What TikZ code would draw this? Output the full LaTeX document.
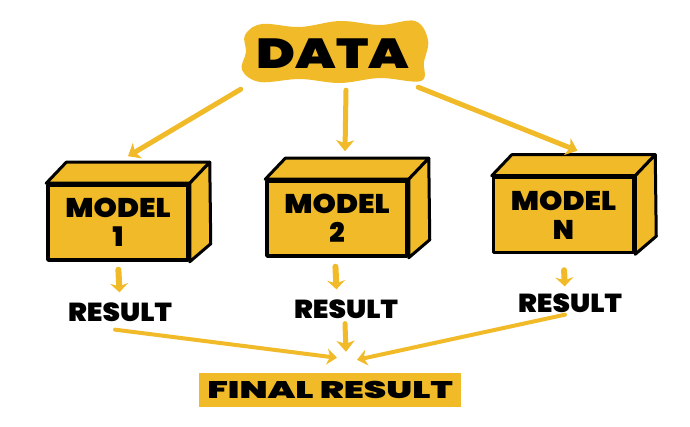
\documentclass[tikz,border=0pt]{standalone}
\usepackage{fontspec}
\setmainfont{Poppins}[BoldFont={* Black}]
\usetikzlibrary{arrows.meta,calc}
\definecolor{yel}{RGB}{240,186,40}
\tikzset{
  yarrow/.style={draw=yel, line width=5pt, line cap=round,
    -{Stealth[length=11pt,width=18pt,inset=3pt]}},
  thinarrow/.style={draw=yel, line width=4pt, line cap=round,
    -{Stealth[length=10pt,width=16pt,inset=3pt]}},
  stubarrow/.style={draw=yel, line width=6pt, line cap=round,
    -{Stealth[length=9pt,width=18pt,inset=3pt]}},
  modelbox/.style={draw=black, fill=yel, line width=3.5pt, line join=round,
    minimum width=140pt, minimum height=75pt, align=center, inner sep=0pt,
    font=\fontsize{27}{29}\selectfont\bfseries},
  face/.style={draw=black, fill=yel, line width=3pt, line join=round},
  res/.style={inner sep=0pt, font=\fontsize{26}{26}\selectfont\bfseries},
  datanode/.style={minimum width=184pt, minimum height=60pt, inner sep=0pt,
    font=\fontsize{42}{42}\selectfont\bfseries},
  finalbox/.style={fill=yel, minimum width=262pt, minimum height=34pt, inner sep=0pt,
    font=\fontsize{24}{24}\selectfont\bfseries},
}
\begin{document}
\begin{tikzpicture}[x=1pt,y=-1pt]
\useasboundingbox (0,0) rectangle (690,427);
% DATA blob
\fill[yel] plot[smooth cycle, tension=0.6] coordinates {(245,35) (262,24) (300,27) (340,21) (380,25) (415,21) (428,40) (424,62) (421,81) (380,78) (340,83) (300,79) (260,82) (242,70) (246,52)};
\node[datanode] (data) at (333,54) {\scalebox{1.25}[1]{DATA}};

% models
\node[modelbox] (m1) at (118,222.5) {\scalebox{1.1}[1]{MODEL}\\1};
\node[modelbox] (m2) at (337,218.5) {\scalebox{1.1}[1]{MODEL}\\2};
\node[modelbox] (mn) at (563.5,215) {\scalebox{1.1}[1]{MODEL}\\N};
\foreach \m in {m1,m2,mn}{
  \draw[face] (\m.north west) -- ++(20,-21) -- ($(\m.north east)+(20,-21)$) -- (\m.north east) -- cycle;
  \draw[face] (\m.north east) -- ++(20,-21) -- ($(\m.south east)+(21,-18)$) -- (\m.south east) -- cycle;
}

% results
\node[res] (r1) at (120,312) {\scalebox{1.08}[1]{RESULT}};
\node[res] (r2) at (346,309) {\scalebox{1.08}[1]{RESULT}};
\node[res] (rn) at (570,303) {\scalebox{1.08}[1]{RESULT}};

% final
\node[finalbox] (final) at (330,390) {\scalebox{1.5}[1]{FINAL RESULT}};

% arrows from data
\draw[yarrow] ([shift={(0,5)}]data.south west) -- ([shift={(10,-27)}]m1.north);
\draw[yarrow] ([shift={(13,6)}]data.south) -- ([shift={(8,-28)}]m2.north);
\draw[yarrow] ([shift={(-7,3)}]data.south east) -- ([shift={(14,-25)}]mn.north);

% stub arrows
\draw[stubarrow, shorten <=8pt, shorten >=10pt] (m1.south) -- (r1.north);
\draw[stubarrow, shorten <=9pt, shorten >=10pt] ([shift={(-2,0)}]m2.south) -- ([shift={(-9,0)}]r2.north);
\draw[stubarrow, shorten <=16pt, shorten >=7pt] (mn.south) -- ([shift={(-5,0)}]rn.north);

% to final
\draw[thinarrow] ([shift={(-5,8)}]r1.south) -- ([shift={(7,-15)}]final.north);
\draw[yarrow] ([shift={(-1,5)}]r2.south) -- ([shift={(16,-21)}]final.north);
\draw[thinarrow] ([shift={(-5,2)}]rn.south) -- ([shift={(27,-13)}]final.north);
\end{tikzpicture}
\end{document}
